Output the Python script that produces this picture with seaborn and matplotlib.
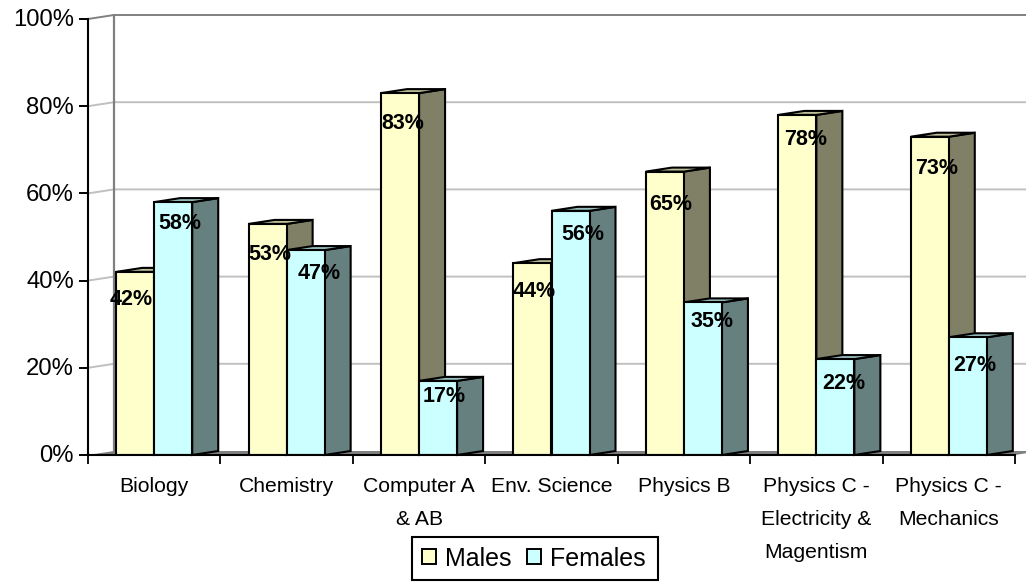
import numpy as np
import pandas as pd
import matplotlib
matplotlib.use("Agg")
import matplotlib.pyplot as plt
from matplotlib.patches import Polygon, Rectangle
from matplotlib.transforms import ScaledTranslation
import seaborn as sns

subjects = ["Biology", "Chemistry", "Computer A\n& AB", "Env. Science", "Physics B",
            "Physics C -\nElectricity &\nMagentism", "Physics C -\nMechanics"]
males = [42, 53, 83, 44, 65, 78, 73]
females = [58, 47, 17, 56, 35, 22, 27]
yticks = [0, 20, 40, 60, 80, 100]

# label nudges in px from bar centre / bar top, excel scattered these
label_dx = [[-4, 2, 3, 2, 6, 8, 7], [7, 14, 6, 12, 9, 8, 7]]
label_dy = [[28, 31, 30, 28, 33, 25, 32], [21, 23, 16, 24, 19, 24, 28]]

sns.set_theme(style="white")
plt.rcParams["font.family"] = ["Liberation Sans", "DejaVu Sans"]

W, H = 1026, 582
fig = plt.figure(figsize=(W / 100, H / 100), dpi=100)
ax = fig.add_axes([88 / W, (H - 455) / H, (1015 - 88) / W, 436 / H])

df = pd.DataFrame({"subject": subjects * 2,
                   "sex": ["Males"] * 7 + ["Females"] * 7,
                   "share": males + females})
sns.barplot(data=df, x="subject", y="share", hue="sex", order=subjects,
            hue_order=["Males", "Females"], palette=["#FFFFCC", "#CCFFFF"],
            width=0.574, gap=0, saturation=1, edgecolor="black", linewidth=1.5,
            errorbar=None, ax=ax)
ax.set_xlim(-0.5, 6.5)
ax.set_ylim(0, 100)

# fake 3d depth, same as excel: 26px right and 4px up
dx = 26 / (927 / 7)
dy = 4 / 4.36

for y in yticks[1:]:
    col = "#808080" if y == 100 else "#C0C0C0"
    ax.plot([-0.5, -0.5 + dx, 6.5 + dx], [y, y + dy, y + dy], color=col, lw=1.4,
            clip_on=False, zorder=1)
ax.plot([-0.5 + dx] * 2, [0, 100 + dy], color="#808080", lw=1.6, clip_on=False, zorder=1)
ax.add_patch(Polygon([(-0.5, 0), (-0.5 + dx, dy), (6.5 + dx, dy), (6.5, 0)], fc="#808080",
                     ec="none", clip_on=False, zorder=1))

side_cols = ["#808066", "#667F7F"]
top_cols = ["#BFBF99", "#99BFBF"]
for k, cont in enumerate(ax.containers):
    for i, bar in enumerate(cont):
        x0, x1 = bar.get_x(), bar.get_x() + bar.get_width()
        v = bar.get_height()
        bar.set_zorder(3 + 2 * k)
        side = Polygon([(x1, 0), (x1 + dx, dy), (x1 + dx, v + dy), (x1, v)], fc=side_cols[k],
                       ec="black", lw=1.5, zorder=2 + 2 * k, clip_on=False)
        top = Polygon([(x0, v), (x0 + dx, v + dy), (x1 + dx, v + dy), (x1, v)], fc=top_cols[k],
                      ec="black", lw=1.5, zorder=2 + 2 * k, clip_on=False)
        ax.add_patch(side)
        ax.add_patch(top)
        ax.annotate(f"{v:.0f}%", ((x0 + x1) / 2, v),
                    xytext=(label_dx[k][i] * 0.72, -label_dy[k][i] * 0.72),
                    textcoords="offset points", ha="center", va="center",
                    fontsize=15.5, fontweight="bold", color="black", zorder=8,
                    annotation_clip=False)

for s in ["top", "right"]:
    ax.spines[s].set_visible(False)
for s in ["left", "bottom"]:
    ax.spines[s].set_color("black")
    ax.spines[s].set_linewidth(1.5)
    ax.spines[s].set_zorder(7)

ax.set_xlabel("")
ax.set_ylabel("")
ax.set_yticks(yticks)
ax.set_yticklabels([f"{y}%" for y in yticks], fontsize=17.2, color="black")
ax.set_xticks(range(7))
ax.set_xticklabels(subjects, fontsize=15.2, color="black", linespacing=1.92)
ax.set_xticks(np.arange(-0.5, 7), minor=True)
ax.tick_params(axis="x", which="major", length=0, pad=16)
ax.tick_params(axis="x", which="minor", bottom=True, length=6.5, width=1.3, color="black")
ax.tick_params(axis="y", left=True, length=6.5, width=1.4, color="black", pad=3.5)
for lab in ax.get_yticklabels():
    lab.set_transform(lab.get_transform() + ScaledTranslation(0, 1 / 100, fig.dpi_scale_trans))

# legend box drawn by hand, the auto frame comes out a few px too narrow
fig.add_artist(Rectangle((412 / W, (H - 580) / H), 246 / W, 43 / H, transform=fig.transFigure,
                         fc="white", ec="black", lw=1.5, zorder=-1))
handles, labels = ax.get_legend_handles_labels()
for h in handles:
    h.set_linewidth(1.4)
ax.legend(handles, labels, ncol=2, loc="center", bbox_to_anchor=(534 / W, (H - 558.5) / H),
          bbox_transform=fig.transFigure, frameon=False, fontsize=18, labelcolor="black",
          handlelength=0.56, handleheight=0.56, handletextpad=0.36, columnspacing=0.62,
          borderpad=0.36, borderaxespad=0)

fig.savefig("out.png", dpi=100)
